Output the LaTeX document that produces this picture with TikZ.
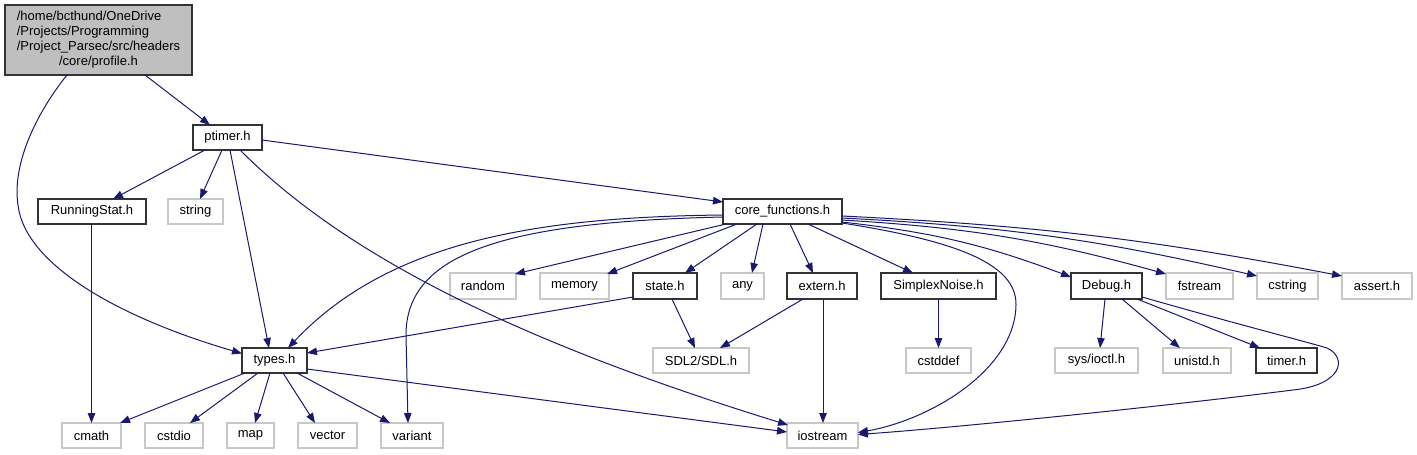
\documentclass[tikz,border=0pt]{standalone}
\usepackage{fontspec}
\setmainfont{Liberation Sans}
\usetikzlibrary{arrows.meta,calc}
\definecolor{edgeblue}{RGB}{25,25,112}
\definecolor{boxgray}{RGB}{191,191,191}
\definecolor{sysgray}{RGB}{200,200,200}
\begin{document}
\begin{tikzpicture}[x=1pt,y=-1pt,
  every node/.style={font=\fontsize{13}{15}\selectfont, inner sep=0pt, outer sep=0pt},
  inc/.style={draw=black!80, line width=1.4pt, fill=white, minimum height=25pt},
  sys/.style={draw=sysgray, line width=1.2pt, fill=white, minimum height=25pt},
  edge/.style={draw=edgeblue, line width=1pt, -{Triangle[length=10pt,width=7.5pt]}}]
\useasboundingbox (0,0) rectangle (1417,455);

% nodes
\node[draw=black!80, line width=1.4pt, fill=boxgray, minimum width=187pt, minimum height=70pt] (profile) at (98.5,40)
  {\begin{tabular}{@{}l@{}}/home/bcthund/OneDrive\\/Projects/Programming\\/Project\_Parsec/src/headers\\\multicolumn{1}{@{}c@{}}{/core/profile.h}\end{tabular}};
\node[inc, minimum width=69pt] (ptimer) at (227.5,137.5) {ptimer.h};
\node[inc, minimum width=108pt] (running) at (92,211.5) {RunningStat.h};
\node[sys, minimum width=55pt] (string) at (195.5,211.5) {string};
\node[inc, minimum width=119pt] (corefn) at (782.5,211.5) {core\_functions.h};

\node[sys, minimum width=66pt, minimum height=26pt] (random) at (483,286) {random};
\node[sys, minimum width=69pt, minimum height=26pt] (memory) at (574.5,286) {memory};
\node[inc, minimum width=64pt, minimum height=26pt] (state) at (665,286) {state.h};
\node[sys, minimum width=43pt, minimum height=26pt] (any) at (742.5,286) {any};
\node[inc, minimum width=70pt, minimum height=26pt] (extern) at (822,286) {extern.h};
\node[inc, minimum width=115pt, minimum height=26pt] (simplex) at (938.5,286) {SimplexNoise.h};
\node[inc, minimum width=71pt, minimum height=26pt] (debug) at (1106.5,286) {Debug.h};
\node[sys, minimum width=67pt, minimum height=26pt] (fstream) at (1199.5,286) {fstream};
\node[sys, minimum width=61pt, minimum height=26pt] (cstring) at (1287.5,286) {cstring};
\node[sys, minimum width=70pt, minimum height=26pt] (assert) at (1377,286) {assert.h};

\node[inc, minimum width=65pt] (types) at (274.5,360.5) {types.h};
\node[sys, minimum width=96pt] (sdl) at (701,360.5) {SDL2/SDL.h};
\node[sys, minimum width=65pt] (cstddef) at (938.5,360.5) {cstddef};
\node[sys, minimum width=83pt] (ioctl) at (1096.5,360.5) {sys/ioctl.h};
\node[sys, minimum width=68pt] (unistd) at (1197,360.5) {unistd.h};
\node[inc, minimum width=61pt] (timer) at (1286.5,360.5) {timer.h};

\node[sys, minimum width=59pt] (cmath) at (91.5,435.5) {cmath};
\node[sys, minimum width=58pt] (cstdio) at (174,435.5) {cstdio};
\node[sys, minimum width=47pt] (map) at (250.5,435.5) {map};
\node[sys, minimum width=59pt] (vector) at (327.5,435.5) {vector};
\node[sys, minimum width=62pt] (variant) at (412,435.5) {variant};
\node[sys, minimum width=71pt] (iostream) at (822.5,435.5) {iostream};

% edges
\draw[edge] ($(profile.south)+(46.5,0)$) -- ($(ptimer.north)+(-17.5,0)$);
\draw[edge] ($(profile.south)+(-31.5,0)$) .. controls (35,115) and (12,165) .. (18,205)
  .. controls (25,265) and (120,318) .. ($(types.west)+(0,-7)$);
\draw[edge] ($(ptimer.south)+(-22.5,0)$) -- ($(running.north)+(21,0)$);
\draw[edge] ($(ptimer.south)+(-5.5,0)$) -- ($(string.north)+(4.5,0)$);
\draw[edge] ($(ptimer.south)+(2.5,0)$) -- ($(types.north)+(-5.5,0)$);
\draw[edge] ($(ptimer.south)+(12.5,0)$) .. controls (330,240) and (480,330) .. ($(iostream.north west)+(1,2)$);
\draw[edge] ($(ptimer.east)+(0,2.5)$) -- ($(corefn.west)+(0,-9.5)$);
\draw[edge] ($(running.south)+(-0.5,0)$) -- (cmath.north);

\draw[edge] ($(corefn.west)+(0,3.5)$) .. controls (540,217) and (390,240) .. ($(types.north)+(13.5,0)$);
\draw[edge] ($(corefn.west)+(0,5.5)$) .. controls (500,222) and (406,255) .. (406,335) -- ($(variant.north)+(-4,0)$);
\draw[edge] ($(corefn.south west)+(3,0)$) -- ($(random.north east)+(-1,1)$);
\draw[edge] ($(corefn.south)+(-45.5,0)$) -- ($(memory.north east)+(-2,1)$);
\draw[edge] ($(corefn.south)+(-25.5,0)$) -- ($(state.north)+(20,0)$);
\draw[edge] ($(corefn.south)+(-19.5,0)$) -- ($(any.north)+(9.5,0)$);
\draw[edge] ($(corefn.south)+(7.5,0)$) -- ($(extern.north)+(-9,0)$);
\draw[edge] ($(corefn.south)+(25.5,0)$) -- ($(simplex.north)+(-25.5,0)$);
\draw[edge] ($(corefn.east)+(0,10.5)$) to[bend left=7] ($(debug.west)+(0,-9)$);
\draw[edge] ($(corefn.east)+(0,8.5)$) to[bend left=6] ($(fstream.west)+(0,-12)$);
\draw[edge] ($(corefn.east)+(0,6.5)$) to[bend left=5] ($(cstring.west)+(0,-10)$);
\draw[edge] ($(corefn.east)+(0,4.5)$) to[bend left=4] ($(assert.west)+(0,-10)$);
\draw[edge] ($(corefn.south east)+(0,-1)$) .. controls (950,240) and (1017,262) .. (1016,305)
  .. controls (1015,370) and (930,420) .. ($(iostream.east)+(0,-3)$);

\draw[edge] ($(state.south west)+(0,-2)$) -- ($(types.east)+(0,-7.5)$);
\draw[edge] ($(state.south)+(7,0)$) -- ($(sdl.north)+(-6,0)$);
\draw[edge] ($(extern.south)+(-19,0)$) -- ($(sdl.north)+(19,0)$);
\draw[edge] ($(extern.south)+(1,0)$) -- ($(iostream.north)+(0.5,0)$);
\draw[edge] (simplex.south) -- (cstddef.north);

\draw[edge] ($(debug.south)+(-1.5,0)$) -- ($(ioctl.north)+(3.5,0)$);
\draw[edge] ($(debug.south)+(15.5,0)$) -- ($(unistd.north)+(-17,0)$);
\draw[edge] ($(debug.south)+(30.5,0)$) -- ($(timer.north west)+(4,0)$);
\draw[edge] ($(debug.south east)+(0,-2)$) .. controls (1240,325) and (1300,340) .. (1327,348)
  .. controls (1348,358) and (1342,385) .. (1293,390)
  .. controls (1150,408) and (950,428) .. ($(iostream.east)+(0,-1)$);

\draw[edge] ($(types.south)+(-29.5,0)$) -- ($(cmath.north east)+(-1,0)$);
\draw[edge] ($(types.south)+(-16.5,0)$) -- ($(cstdio.north)+(16,0)$);
\draw[edge] ($(types.south)+(-4.5,0)$) -- ($(map.north)+(4.5,0)$);
\draw[edge] ($(types.south)+(8.5,0)$) -- ($(vector.north)+(-12.5,0)$);
\draw[edge] ($(types.south)+(22.5,0)$) -- ($(variant.north)+(-22,0)$);
\draw[edge] ($(types.east)+(0,8.5)$) -- ($(iostream.west)+(0,-3.5)$);
\end{tikzpicture}
\end{document}
